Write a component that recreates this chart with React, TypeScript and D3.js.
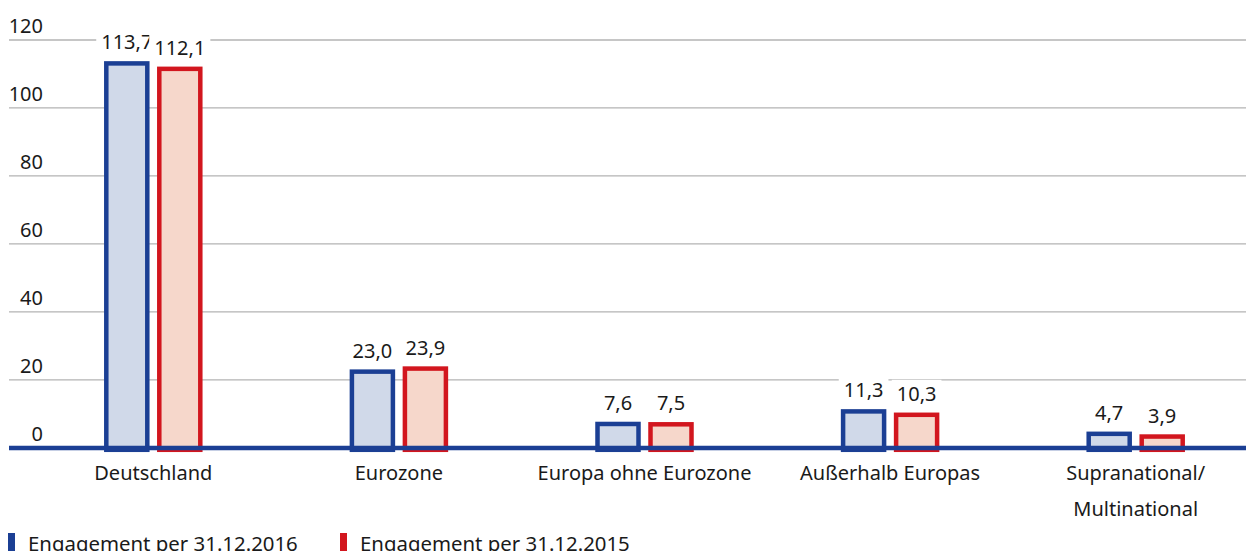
import React, { useRef, useEffect } from "react";
import * as d3 from "d3";

// Kategorien und Werte (Mrd. €)
const categories = ["Deutschland", "Eurozone", "Europa ohne Eurozone", "Außerhalb Europas", "Supranational/\nMultinational"];
const values2016 = [113.7, 23.0, 7.6, 11.3, 4.7];
const values2015 = [112.1, 23.9, 7.5, 10.3, 3.9];
const seriesNames = ["Engagement per 31.12.2016", "Engagement per 31.12.2015"];
const yTicks = [0, 20, 40, 60, 80, 100, 120];

const strokeColors = ["#1b3f94", "#d2161e"];
const fillColors = ["#d0d9e9", "#f6d7cb"];
const FONT = "'Noto Sans', sans-serif";

export default function App() {
  const ref = useRef<SVGSVGElement>(null);
  const width = 1246;
  const height = 551;

  useEffect(() => {
    const svg = d3.select(ref.current);
    svg.selectAll("*").remove();

    const left = 9;
    const y = d3.scaleLinear().domain([0, 120]).range([447.8, 40]);
    const x = d3.scaleBand().domain(categories).range([30.5, 1258.5]).padding(0);
    const barW = 45;
    const gap = 8;

    // Gitterlinien + Achsenbeschriftung
    const grid = svg.append("g");
    yTicks.filter((t) => t > 0).forEach((t) => {
      grid.append("line")
        .attr("x1", left).attr("x2", width)
        .attr("y1", y(t)).attr("y2", y(t))
        .attr("stroke", "#b3b3b3").attr("stroke-width", 1.3);
    });
    yTicks.forEach((t) => {
      svg.append("text")
        .attr("x", 43).attr("y", y(t) - 7)
        .attr("text-anchor", "end")
        .attr("font-family", FONT).attr("font-size", 20)
        .attr("fill", "#1a1a1a")
        .text(d3.format("d")(t));
    });

    const fmt = (v: number) => v.toFixed(1).replace(".", ",");
    const series = [values2016, values2015];

    categories.forEach((c, ci) => {
      const cx = (x(c) as number) + x.bandwidth() / 2;
      series.forEach((vals, si) => {
        const v = vals[ci];
        const x0 = si === 0 ? cx - gap / 2 - barW : cx + gap / 2;
        svg.append("rect")
          .attr("x", x0 + 2).attr("y", y(v) + 2)
          .attr("width", barW - 4).attr("height", y(0) - y(v))
          .attr("fill", fillColors[si])
          .attr("stroke", strokeColors[si]).attr("stroke-width", 4.5);
        // Wertelabel mit weißem Hintergrund
        const g = svg.append("g");
        const txt = g.append("text")
          .attr("x", x0 + barW / 2).attr("y", y(v) - 12)
          .attr("text-anchor", "middle")
          .attr("font-family", FONT).attr("font-size", 20)
          .attr("fill", "#1a1a1a")
          .text(fmt(v));
        const bb = (txt.node() as SVGTextElement).getBBox();
        g.insert("rect", "text")
          .attr("x", bb.x - 5).attr("y", bb.y)
          .attr("width", bb.width + 10).attr("height", bb.height)
          .attr("fill", "#fff");
      });
      // Kategorienlabel
      const lines = c.split("\n");
      lines.forEach((ln, li) => {
        svg.append("text")
          .attr("x", cx).attr("y", 480 + li * 36)
          .attr("text-anchor", "middle")
          .attr("font-family", FONT).attr("font-size", 20)
          .attr("fill", "#1a1a1a")
          .text(ln);
      });
    });

    // Nulllinie
    svg.append("line")
      .attr("x1", left).attr("x2", width)
      .attr("y1", 448).attr("y2", 448)
      .attr("stroke", strokeColors[0]).attr("stroke-width", 4.5);

    // Legende
    const legendX = [8, 340];
    seriesNames.forEach((name, i) => {
      svg.append("rect")
        .attr("x", legendX[i]).attr("y", 533)
        .attr("width", 7).attr("height", 20)
        .attr("fill", strokeColors[i]);
      svg.append("text")
        .attr("x", legendX[i] + 20).attr("y", 551)
        .attr("font-family", FONT).attr("font-size", 20.4)
        .attr("fill", "#1a1a1a")
        .text(name);
    });
  }, []);

  return (
    <svg ref={ref} width={width} height={height} style={{ position: "absolute", left: 0, top: 0 }} />
  );
}
